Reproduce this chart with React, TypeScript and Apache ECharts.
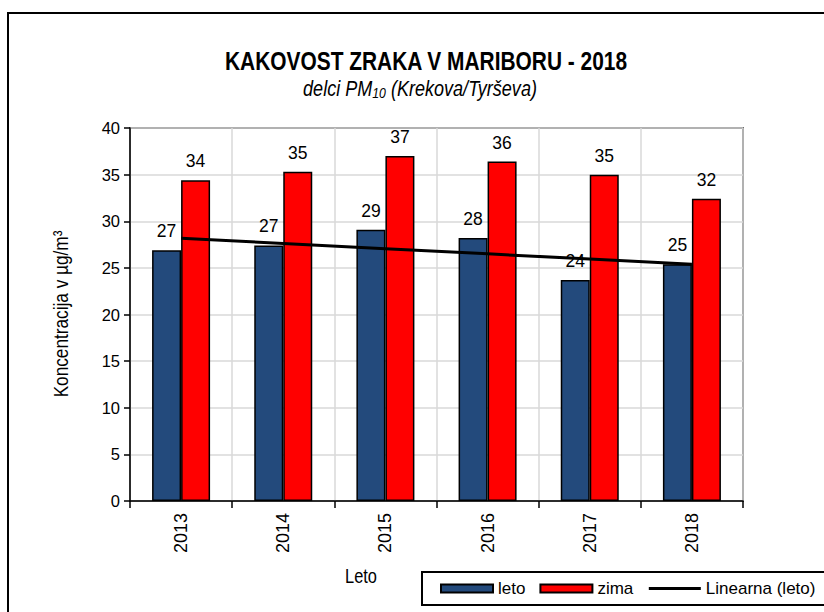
import React, { useEffect, useRef } from "react";
import * as echarts from "echarts";

const categories = ["2013", "2014", "2015", "2016", "2017", "2018"];
const letoValues = [26.9, 27.4, 29.1, 28.2, 23.7, 25.4];
const zimaValues = [34.4, 35.3, 37.0, 36.4, 35.0, 32.4];
const yTicks = { min: 0, max: 40, interval: 5 };

const FONT = '"Liberation Sans", Arial, sans-serif';
const NARROW = 0.82;

function linearTrend(values: number[]): number[] {
  const n = values.length;
  const xs = values.map((_, i) => i);
  const mx = xs.reduce((a, b) => a + b, 0) / n;
  const my = values.reduce((a, b) => a + b, 0) / n;
  let sxy = 0;
  let sxx = 0;
  for (let i = 0; i < n; i++) {
    sxy += (xs[i] - mx) * (values[i] - my);
    sxx += (xs[i] - mx) * (xs[i] - mx);
  }
  const slope = sxy / sxx;
  return xs.map((x) => my + slope * (x - mx));
}

export default function App() {
  const ref = useRef<HTMLDivElement>(null);

  useEffect(() => {
    if (!ref.current) return;
    const chart = echarts.init(ref.current, undefined, { renderer: "svg" });
    const trend = linearTrend(letoValues);
    const labelStyle = {
      show: true,
      position: "top" as const,
      distance: 10,
      fontFamily: FONT,
      fontSize: 17.5,
      color: "#000",
      formatter: (p: any) => String(Math.round(p.value)),
    };
    chart.setOption({
      animation: false,
      backgroundColor: "#fff",
      textStyle: { fontFamily: FONT },
      graphic: [
        {
          type: "rect",
          z: -10,
          shape: { x: 8, y: 13, width: 1000, height: 1000 },
          style: { fill: "none", stroke: "#000", lineWidth: 2 },
        },
        {
          type: "text",
          x: 426,
          y: 61,
          scaleX: NARROW,
          style: {
            text: "KAKOVOST ZRAKA V MARIBORU - 2018",
            fontFamily: FONT,
            fontSize: 25.5,
            fontWeight: "bold",
            fill: "#000",
            align: "center",
            verticalAlign: "middle",
          },
        },
        {
          type: "text",
          x: 420,
          y: 88,
          scaleX: NARROW,
          style: {
            text: "{i|delci PM}{s|10}{i| (Krekova/Tyrševa)}",
            align: "center",
            verticalAlign: "middle",
            rich: {
              i: {
                fontFamily: FONT,
                fontSize: 22,
                fontStyle: "italic",
                fill: "#000",
                lineHeight: 26,
              },
              s: {
                fontFamily: FONT,
                fontSize: 15,
                fontStyle: "italic",
                fill: "#000",
                lineHeight: 15,
                verticalAlign: "bottom",
              },
            },
          },
        },
        {
          type: "text",
          x: 61,
          y: 314,
          rotation: Math.PI / 2,
          scaleX: NARROW,
          style: {
            text: "Koncentracija v µg/m³",
            fontFamily: FONT,
            fontSize: 21,
            fill: "#000",
            align: "center",
            verticalAlign: "middle",
          },
        },
        {
          type: "text",
          x: 361,
          y: 576,
          scaleX: NARROW,
          style: {
            text: "Leto",
            fontFamily: FONT,
            fontSize: 20,
            fill: "#000",
            align: "center",
            verticalAlign: "middle",
          },
        },
      ],
      grid: {
        left: 130,
        right: 81,
        top: 128,
        bottom: 111,
        show: true,
        borderColor: "#000",
        borderWidth: 1.5,
        backgroundColor: "transparent",
      },
      legend: {
        left: 422,
        top: 572,
        width: 600,
        padding: [8, 30, 8, 18],
        borderColor: "#000",
        borderWidth: 2,
        itemWidth: 52,
        itemHeight: 8,
        itemGap: 14,
        textStyle: { fontFamily: FONT, fontSize: 17, color: "#000" },
        data: [
          { name: "leto", icon: "rect" },
          { name: "zima", icon: "rect" },
          {
            name: "Linearna (leto)",
            itemStyle: { opacity: 0 },
            lineStyle: { color: "#000", width: 3 },
          },
        ],
      },
      xAxis: {
        type: "category",
        data: categories,
        axisLine: { lineStyle: { color: "#000", width: 1.5 } },
        axisTick: { show: true, interval: 0, length: 7, lineStyle: { color: "#000", width: 1.5 } },
        axisLabel: {
          rotate: 90,
          margin: 12,
          fontFamily: FONT,
          fontSize: 18,
          color: "#000",
        },
        splitLine: { show: true, interval: 0, lineStyle: { color: "#d9d9d9", width: 1.5 } },
      },
      yAxis: {
        type: "value",
        min: yTicks.min,
        max: yTicks.max,
        interval: yTicks.interval,
        axisLine: { show: true, lineStyle: { color: "#000", width: 1.5 } },
        axisTick: { show: true, length: 6, lineStyle: { color: "#000", width: 1.5 } },
        axisLabel: { margin: 10, fontFamily: FONT, fontSize: 16.5, color: "#000" },
        splitLine: { show: true, lineStyle: { color: "#d9d9d9", width: 1.5 } },
      },
      series: [
        {
          name: "leto",
          type: "bar",
          data: letoValues,
          barWidth: 29,
          barGap: "0%",
          itemStyle: { color: "#234a7c", borderColor: "#000", borderWidth: 1.5 },
          label: labelStyle,
        },
        {
          name: "zima",
          type: "bar",
          data: zimaValues,
          barWidth: 29,
          barGap: "0%",
          itemStyle: { color: "#ff0000", borderColor: "#000", borderWidth: 1.5 },
          label: labelStyle,
        },
        {
          name: "Linearna (leto)",
          type: "line",
          data: trend,
          symbol: "none",
          z: 5,
          itemStyle: { color: "#000" },
          lineStyle: { color: "#000", width: 3 },
        },
      ],
    });
    return () => chart.dispose();
  }, []);

  return (
    <div
      ref={ref}
      style={{ position: "fixed", left: 0, top: 0, width: 824, height: 612 }}
    />
  );
}
